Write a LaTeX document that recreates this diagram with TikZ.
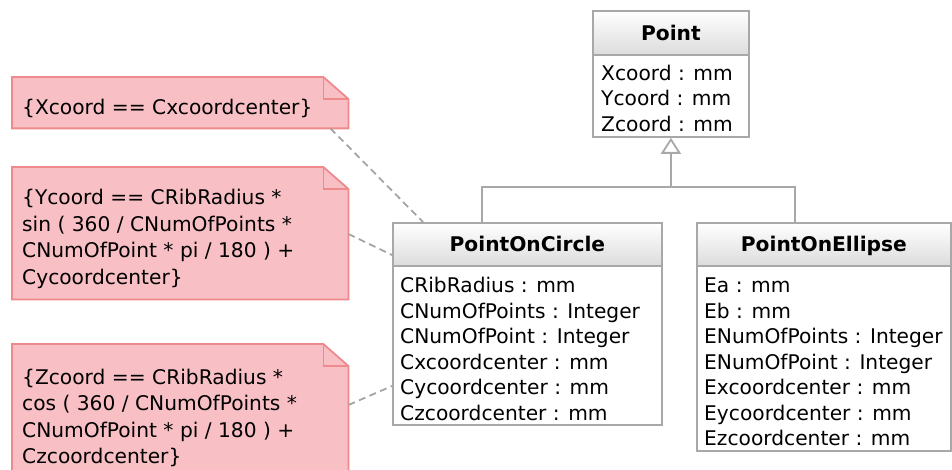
\documentclass[tikz,border=0pt]{standalone}
\usepackage{fontspec}
\setmainfont{DejaVu Sans}
\usetikzlibrary{arrows.meta}
\definecolor{notefill}{HTML}{F8BFC4}
\definecolor{noteline}{HTML}{EE8A8C}
\definecolor{boxline}{HTML}{A8A8A8}
\definecolor{headbot}{HTML}{DCDCDC}
\definecolor{linkgray}{HTML}{A4A4A4}
\begin{document}
\begin{tikzpicture}[x=1pt,y=-1pt,
  txt/.style={anchor=north west, inner sep=0pt, align=left,
    font=\fontsize{20.2}{25.5}\selectfont},
  notetxt/.style={txt, font=\fontsize{20.2}{26.5}\selectfont},
  titletxt/.style={anchor=base, inner sep=0pt,
    font=\fontsize{20.2}{25.5}\selectfont\bfseries},
  classbox/.style={draw=boxline, line width=1.8pt, fill=white,
    anchor=north west, inner sep=0pt},
  headbox/.style={draw=boxline, line width=1.8pt, top color=white,
    bottom color=headbot, anchor=north west, inner sep=0pt},
  notebox/.style={anchor=north west, inner sep=0pt, minimum width=336pt},
  notepath/.style={draw=noteline, fill=notefill, line width=1.8pt, line join=miter},
  anchorline/.style={draw=linkgray, line width=1.8pt, dash pattern=on 7pt off 4.5pt},
  genline/.style={draw=boxline, line width=1.8pt},
  gentip/.style={-{Triangle[open, length=16pt, width=20pt, line width=1.8pt]}}]

\clip (0,0) rectangle (952,470);

% ---------- class Point ----------
\node[classbox, minimum width=156pt, minimum height=126pt] (point) at (592,10) {};
\node[headbox, minimum width=156pt, minimum height=44pt] (pointhead) at (592,10) {};
\node[titletxt] (pointname) at ([yshift=-7.5pt]pointhead.center) {Point};
\node[txt] (pointattrs) at ([xshift=9pt,yshift=-4.5pt]pointhead.south west)
  {\rule{0pt}{20pt}Xcoord : mm\\Ycoord : mm\\Zcoord : mm};

% ---------- class PointOnCircle ----------
\node[classbox, minimum width=269pt, minimum height=202pt] (circle) at (392,222) {};
\node[headbox, minimum width=269pt, minimum height=43pt] (circlehead) at (392,222) {};
\node[titletxt] (circlename) at ([yshift=-7.5pt]circlehead.center) {PointOnCircle};
\node[txt] (circleattrs) at ([xshift=8pt,yshift=-5.5pt]circlehead.south west)
  {\rule{0pt}{20pt}CRibRadius : mm\\CNumOfPoints : Integer\\CNumOfPoint : Integer\\
   Cxcoordcenter : mm\\Cycoordcenter : mm\\Czcoordcenter : mm};

% ---------- class PointOnEllipse ----------
\node[classbox, minimum width=254pt, minimum height=228pt] (ellipse) at (696,222) {};
\node[headbox, minimum width=254pt, minimum height=43pt] (ellipsehead) at (696,222) {};
\node[titletxt] (ellipsename) at ([yshift=-7.5pt]ellipsehead.center) {PointOnEllipse};
\node[txt] (ellipseattrs) at ([xshift=8pt,yshift=-5.5pt]ellipsehead.south west)
  {\rule{0pt}{20pt}Ea : mm\\Eb : mm\\ENumOfPoints : Integer\\ENumOfPoint : Integer\\
   Excoordcenter : mm\\Eycoordcenter : mm\\Ezcoordcenter : mm};

% ---------- generalization ----------
\coordinate (junction) at ([yshift=-49pt]point.south);
\draw[genline] ([xshift=90pt]circlehead.north west) |- (junction);
\draw[genline] ([xshift=99pt]ellipsehead.north west) |- (junction);
\draw[genline, gentip] (junction) -- (point.south);

% ---------- constraint notes ----------
\node[notebox, minimum height=51pt] (note1) at (12,77) {};
\node[notebox, minimum height=132pt] (note2) at (12,167) {};
\node[notebox, minimum height=140pt] (note3) at (12,344) {};
\foreach \n in {note1,note2,note3}{
  \path[notepath] (\n.north west) -- ([xshift=-25pt]\n.north east)
    -- ([yshift=-22pt]\n.north east) -- (\n.south east) -- (\n.south west) -- cycle;
  \draw[noteline, line width=1.8pt] ([xshift=-25pt]\n.north east)
    |- ([yshift=-22pt]\n.north east);
}
\node[notetxt] (note1txt) at ([xshift=10pt,yshift=-17.5pt]note1.north west)
  {\rule{0pt}{20pt}\{Xcoord == Cxcoordcenter\}};
\node[notetxt] (note2txt) at ([xshift=10pt,yshift=-17.5pt]note2.north west)
  {\rule{0pt}{20pt}\{Ycoord == CRibRadius *\\sin ( 360 / CNumOfPoints *\\
   CNumOfPoint * pi / 180 ) +\\Cycoordcenter\}};
\node[notetxt] (note3txt) at ([xshift=10pt,yshift=-20pt]note3.north west)
  {\rule{0pt}{20pt}\{Zcoord == CRibRadius *\\cos ( 360 / CNumOfPoints *\\
   CNumOfPoint * pi / 180 ) +\\Czcoordcenter\}};

% ---------- note anchors ----------
\draw[anchorline] ([xshift=-18pt]note1.south east) -- ([xshift=31pt]circle.north west);
\draw[anchorline] ([yshift=-67pt]note2.north east) -- ([yshift=-33pt]circle.north west);
\draw[anchorline] ([yshift=-61pt]note3.north east) -- ([yshift=-164pt]circle.north west);
\end{tikzpicture}
\end{document}
